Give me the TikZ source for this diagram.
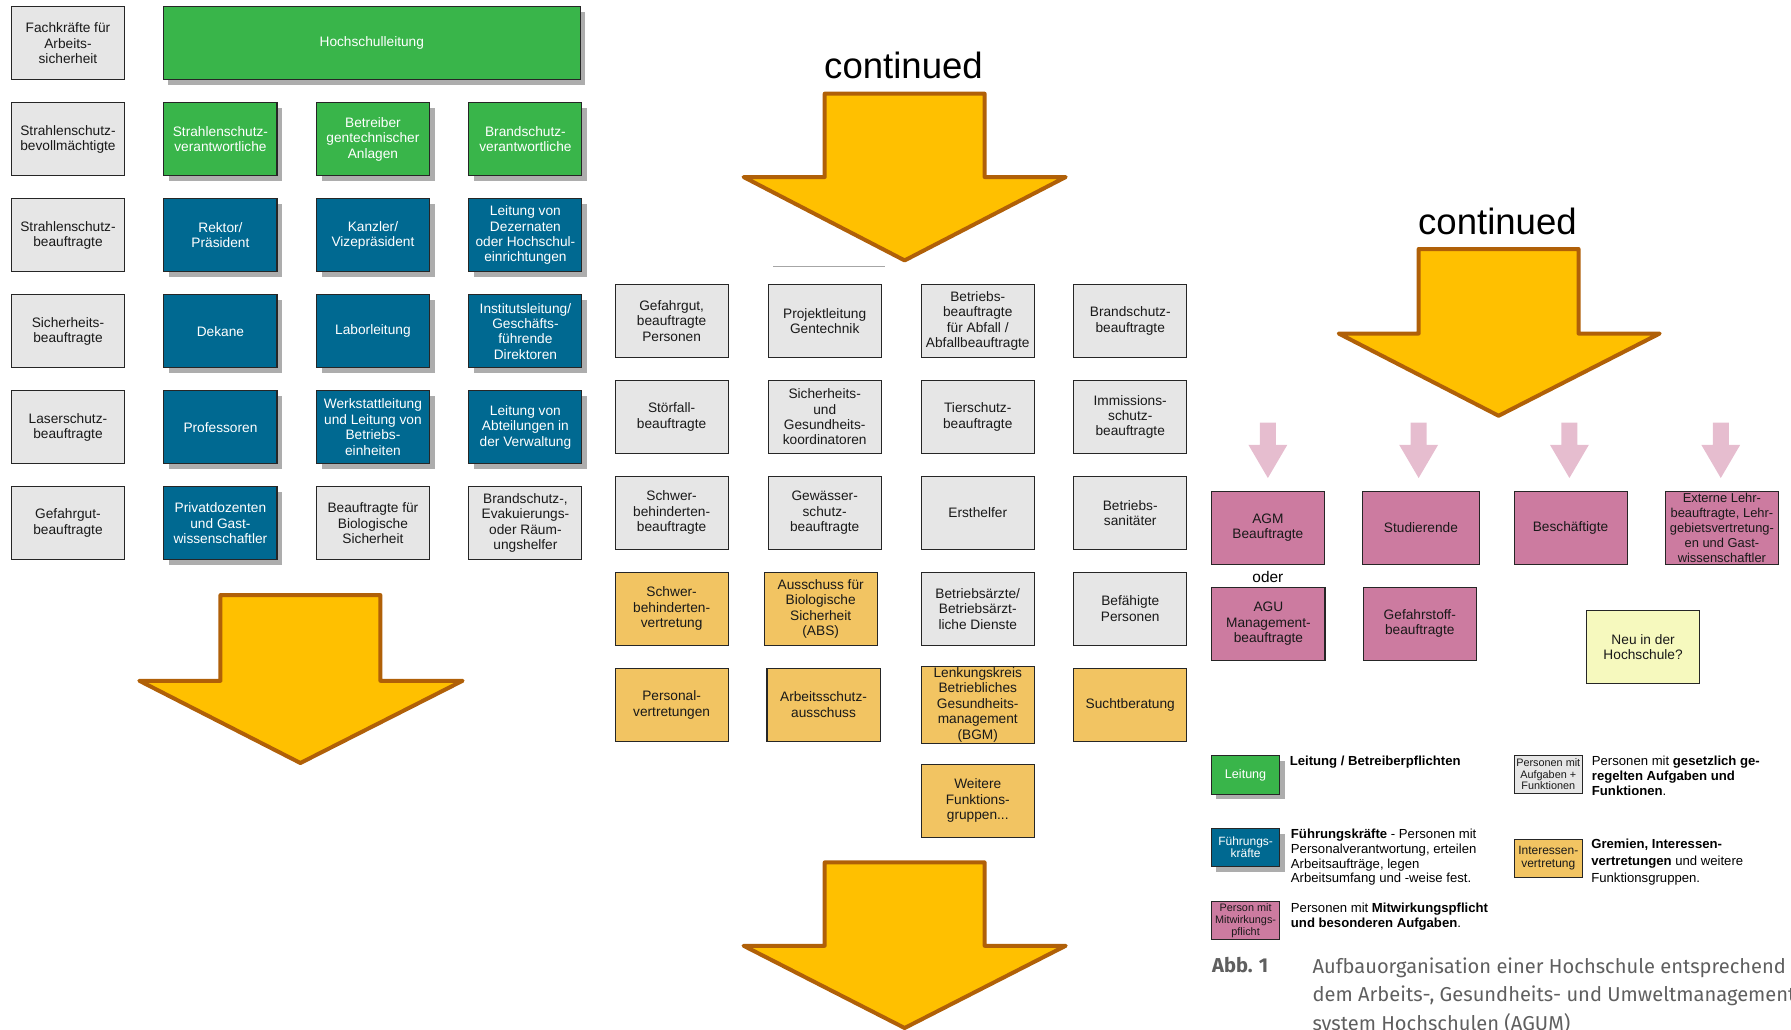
\documentclass[tikz,border=0pt]{standalone}
\usepackage{fontspec}
\setmainfont{Liberation Sans}
\newfontfamily\capfont{Fira Sans}
\usepackage{xcolor}
\usepackage{tikz}
\usetikzlibrary{shadows}

\definecolor{leitgreen}{RGB}{57,181,74}
\definecolor{fuehrblue}{RGB}{0,105,145}
\definecolor{boxgray}{RGB}{230,230,230}
\definecolor{gremorange}{RGB}{242,196,98}
\definecolor{mitpink}{RGB}{204,123,160}
\definecolor{neuyellow}{RGB}{246,249,190}
\definecolor{arrowfill}{RGB}{255,192,0}
\definecolor{arrowdraw}{RGB}{176,96,8}
\definecolor{pinkarrow}{RGB}{230,189,207}
\definecolor{capgray}{RGB}{95,95,95}

\tikzset{
  box/.style={draw=black!85, line width=0.9pt, minimum width=99pt, minimum height=64pt,
    inner sep=1pt, align=center, text=black!90, font=\fontsize{12}{13.5}\selectfont},
  schatten/.style={drop shadow={shadow xshift=4.5pt, shadow yshift=-4.5pt, fill=black!32, opacity=1}},
  graybox/.style={box, fill=boxgray},
  leitbox/.style={box, schatten, fill=leitgreen, text=white},
  fuehrbox/.style={box, schatten, fill=fuehrblue, text=white},
  gremiumbox/.style={box, fill=gremorange},
  mitbox/.style={box, fill=mitpink},
  neubox/.style={box, fill=neuyellow},
  legbox/.style={minimum width=60pt, minimum height=33.5pt},
  legtext/.style={anchor=north west, align=left, inner sep=0pt, font=\fontsize{11.5}{13}\selectfont},
  bigarrow/.style={fill=arrowfill, draw=arrowdraw, line width=3.5pt, line join=round},
  pinkpfeil/.style={fill=pinkarrow},
}

\begin{document}
\begin{tikzpicture}[x=1pt,y=-1pt]
  \useasboundingbox (0,0) rectangle (1568,901.75);
      % linke Spalte
      \node[graybox] (A1) at (59.5,38) {Fachkräfte für\\Arbeits-\\sicherheit};
      \node[graybox] (A2) at (59.5,122) {Strahlenschutz-\\bevollmächtigte};
      \node[graybox] (A3) at (59.5,206) {Strahlenschutz-\\beauftragte};
      \node[graybox] (A4) at (59.5,290) {Sicherheits-\\beauftragte};
      \node[graybox] (A5) at (59.5,374) {Laserschutz-\\beauftragte};
      \node[graybox] (A6) at (59.5,458) {Gefahrgut-\\beauftragte};
      \node[leitbox, minimum width=365pt] (B1) at (325.5,38) {Hochschulleitung};
      \node[leitbox] (B2) at (193,122) {Strahlenschutz-\\verantwortliche};
      \node[leitbox] (C2) at (326.5,122) {Betreiber\\gentechnischer\\Anlagen};
      \node[leitbox] (D2) at (460,122) {Brandschutz-\\verantwortliche};
      \node[fuehrbox] (B3) at (193,206) {Rektor/\\Präsident};
      \node[fuehrbox] (C3) at (326.5,206) {Kanzler/\\Vizepräsident};
      \node[fuehrbox] (D3) at (460,206) {Leitung von\\Dezernaten\\oder Hochschul-\\einrichtungen};
      \node[fuehrbox] (B4) at (193,290) {Dekane};
      \node[fuehrbox] (C4) at (326.5,290) {Laborleitung};
      \node[fuehrbox] (D4) at (460,290) {Institutsleitung/\\Geschäfts-\\führende\\Direktoren};
      \node[fuehrbox] (B5) at (193,374) {Professoren};
      \node[fuehrbox] (C5) at (326.5,374) {Werkstattleitung\\und Leitung von\\Betriebs-\\einheiten};
      \node[fuehrbox] (D5) at (460,374) {Leitung von\\Abteilungen in\\der Verwaltung};
      \node[fuehrbox] (B6) at (193,458) {Privatdozenten\\und Gast-\\wissenschaftler};
      \node[graybox] (C6) at (326.5,458) {Beauftragte für\\Biologische\\Sicherheit};
      \node[graybox] (D6) at (460,458) {Brandschutz-,\\Evakuierungs-\\oder Räum-\\ungshelfer};
      % mittlerer Block
      \node[font=\fontsize{32}{36}\selectfont] (K1) at (791,57) {continued};
      \node[graybox] (E1) at (588,281) {Gefahrgut,\\beauftragte\\Personen};
      \node[graybox] (F1) at (722,281) {Projektleitung\\Gentechnik};
      \node[graybox] (G1) at (856,281) {Betriebs-\\beauftragte\\für Abfall /\\Abfallbeauftragte};
      \node[graybox] (H1) at (989.5,281) {Brandschutz-\\beauftragte};
      \node[graybox] (E2) at (588,365) {Störfall-\\beauftragte};
      \node[graybox] (F2) at (722,365) {Sicherheits-\\und\\Gesundheits-\\koordinatoren};
      \node[graybox] (G2) at (856,365) {Tierschutz-\\beauftragte};
      \node[graybox] (H2) at (989.5,365) {Immissions-\\schutz-\\beauftragte};
      \node[graybox] (E3) at (588,449) {Schwer-\\behinderten-\\beauftragte};
      \node[graybox] (F3) at (722,449) {Gewässer-\\schutz-\\beauftragte};
      \node[graybox] (G3) at (856,449) {Ersthelfer};
      \node[graybox] (H3) at (989.5,449) {Betriebs-\\sanitäter};
      \node[gremiumbox] (E4) at (588,533) {Schwer-\\behinderten-\\vertretung};
      \node[gremiumbox] (F4) at (718.5,533) {Ausschuss für\\Biologische\\Sicherheit\\(ABS)};
      \node[graybox] (G4) at (856,533) {Betriebsärzte/\\Betriebsärzt-\\liche Dienste};
      \node[graybox] (H4) at (989.5,533) {Befähigte\\Personen};
      \node[gremiumbox] (E5) at (588,617) {Personal-\\vertretungen};
      \node[gremiumbox] (F5) at (721,617) {Arbeitsschutz-\\ausschuss};
      \node[gremiumbox] (G5) at (856,617) {Lenkungskreis\\Betriebliches\\Gesundheits-\\management\\(BGM)};
      \node[gremiumbox] (H5) at (989.5,617) {Suchtberatung};
      \node[gremiumbox] (G6) at (856,701) {Weitere\\Funktions-\\gruppen...};
      % rechter Block
      \node[font=\fontsize{32}{36}\selectfont] (K2) at (1311,194) {continued};
      \node[mitbox] (P1) at (1110,462) {AGM\\Beauftragte};
      \node[mitbox, minimum width=102pt] (P2) at (1244,462) {Studierende};
      \node[mitbox] (P3) at (1375,462) {Beschäftigte};
      \node[mitbox, font=\fontsize{11.3}{13}\selectfont] (P4) at (1507.5,462) {Externe Lehr-\\beauftragte, Lehr-\\gebietsvertretung-\\en und Gast-\\wissenschaftler};
      \node[font=\fontsize{13.5}{15}\selectfont, inner sep=0pt] (OD) at (1110,505) {oder};
      \node[mitbox] (P5) at (1110.5,546) {AGU\\Management-\\beauftragte};
      \node[mitbox] (P6) at (1243,546) {Gefahrstoff-\\beauftragte};
      \node[neubox] (NH) at (1438.5,566.5) {Neu in der\\Hochschule?};
      % Legende
      \node[leitbox, legbox, font=\fontsize{11}{11}\selectfont] (LA) at (1090.5,678.5) {Leitung};
      \node[fuehrbox, legbox, font=\fontsize{10.5}{10.5}\selectfont] (LB) at (1090.5,742) {Führungs-\\kräfte};
      \node[mitbox, legbox, font=\fontsize{9.5}{10.2}\selectfont] (LC) at (1090.5,806) {Person mit\\Mitwirkungs-\\pflicht};
      \node[graybox, legbox, font=\fontsize{9.5}{10.2}\selectfont] (LD) at (1355.5,678) {Personen mit\\Aufgaben +\\Funktionen};
      \node[gremiumbox, legbox, font=\fontsize{10.5}{11.5}\selectfont] (LE) at (1355.5,751.5) {Interessen-\\vertretung};
      \node[legtext] (T1) at (1129,662) {\textbf{Leitung / Betreiberpflichten}};
      \node[legtext] (T2) at (1393.5,662) {Personen mit \textbf{gesetzlich ge-}\\\textbf{regelten Aufgaben und}\\\textbf{Funktionen}.};
      \node[legtext] (T3) at (1130,725.5) {\textbf{Führungskräfte} - Personen mit\\Personalverantwortung, erteilen\\Arbeitsaufträge, legen\\Arbeitsumfang und -weise fest.};
      \node[legtext, font=\fontsize{11.5}{15}\selectfont] (T4) at (1393,734.5) {\textbf{Gremien, Interessen-}\\\textbf{vertretungen} und weitere\\Funktionsgruppen.};
      \node[legtext] (T5) at (1130,790.5) {Personen mit \textbf{Mitwirkungspflicht}\\\textbf{und besonderen Aufgaben}.};
      \node[anchor=north west, inner sep=0pt, text=capgray, font=\capfont\bfseries\fontsize{17.6}{25}\selectfont] (AB) at (1061,838) {Abb. 1};
      \node[anchor=north west, inner sep=0pt, align=left, text=capgray, font=\capfont\fontsize{17.6}{25}\selectfont] (CP) at (1149,838) {Aufbauorganisation einer Hochschule entsprechend\\dem Arbeits-, Gesundheits- und Umweltmanagement-\\system Hochschulen (AGUM)};
      % Pfeile
      \coordinate (S1) at (677,233);
      \coordinate (S2) at (775,233);
      \draw[black!35, line width=1pt] (S1) -- (S2);
      \draw[bigarrow] (193,521) -- (333,521) -- (333,596) -- (405,596) -- (263,668) -- (122,596) -- (193,596) -- cycle;
      \draw[bigarrow] (722,82) -- (862,82) -- (862,155) -- (933,155) -- (792,228) -- (651,155) -- (722,155) -- cycle;
      \draw[bigarrow] (1242,218) -- (1382,218) -- (1382,292) -- (1453,292) -- (1312,364) -- (1172,292) -- (1242,292) -- cycle;
      \draw[bigarrow] (722,755) -- (862,755) -- (862,828) -- (933,828) -- (792,900) -- (651,828) -- (722,828) -- cycle;
      \fill[pinkpfeil] (1103,370) -- (1117,370) -- (1117,389.5) -- (1127,389.5) -- (1110,418.5) -- (1093,389.5) -- (1103,389.5) -- cycle;
      \fill[pinkpfeil] (1235,370) -- (1249,370) -- (1249,389.5) -- (1259,389.5) -- (1242,418.5) -- (1225,389.5) -- (1235,389.5) -- cycle;
      \fill[pinkpfeil] (1367,370) -- (1381,370) -- (1381,389.5) -- (1391,389.5) -- (1374,418.5) -- (1357,389.5) -- (1367,389.5) -- cycle;
      \fill[pinkpfeil] (1499.5,370) -- (1513.5,370) -- (1513.5,389.5) -- (1523.5,389.5) -- (1506.5,418.5) -- (1489.5,389.5) -- (1499.5,389.5) -- cycle;
\end{tikzpicture}
\end{document}
